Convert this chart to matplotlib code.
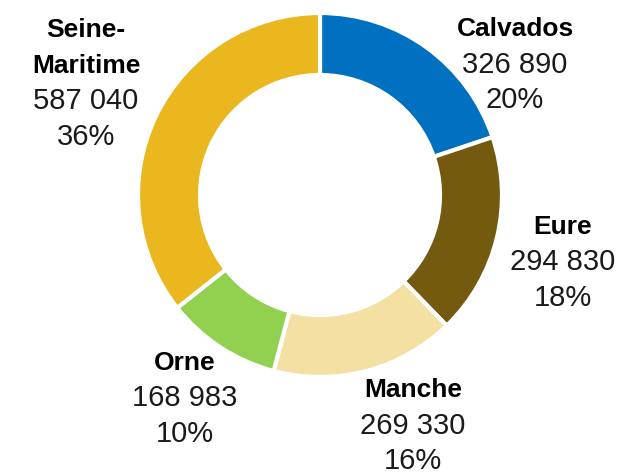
import numpy as np
from matplotlib import pyplot as plt

# data
departements = ['Calvados', 'Eure', 'Manche', 'Orne', 'Seine-\nMaritime']
population = [326890, 294830, 269330, 168983, 587040]
couleurs = ['#0070C0', '#735A0F', '#F5E0A3', '#92D050', '#EAB71E']

# label anchor (centre x, top-line y) in pixels, y from top of image
label_pos = [(515, 29), (563, 227), (413, 390), (185, 363), (86, 30)]
W, H = 625, 474
line_h = 35.5


def fmt(v):
    return '{:,}'.format(v).replace(',', ' ')


fig = plt.figure(figsize=(W / 100, H / 100), dpi=100)
ax = fig.add_axes([0, 0, 1, 1])
ax.pie(population, colors=couleurs, startangle=90, counterclock=False,
       center=(320, H - 195), radius=182,
       wedgeprops=dict(width=62, edgecolor='white', linewidth=3))
ax.set_xlim(0, W)
ax.set_ylim(0, H)
ax.set_aspect('equal')
ax.axis('off')

total = sum(population)
for name, v, (x, y) in zip(departements, population, label_pos):
    yy = y
    for ln in name.split('\n'):
        ax.text(x, H - yy, ln, ha='center', va='center', fontsize=19,
                fontweight='bold', family='Liberation Sans', color='black')
        yy += line_h
    ax.text(x, H - yy, fmt(v), ha='center', va='center', fontsize=21,
            family='Liberation Sans', color='#1a1a1a')
    yy += line_h
    ax.text(x, H - yy, '{:.0f}%'.format(100 * v / total), ha='center', va='center',
            fontsize=21, family='Liberation Sans', color='#1a1a1a')

plt.savefig('out.png', dpi=100)
plt.close()
